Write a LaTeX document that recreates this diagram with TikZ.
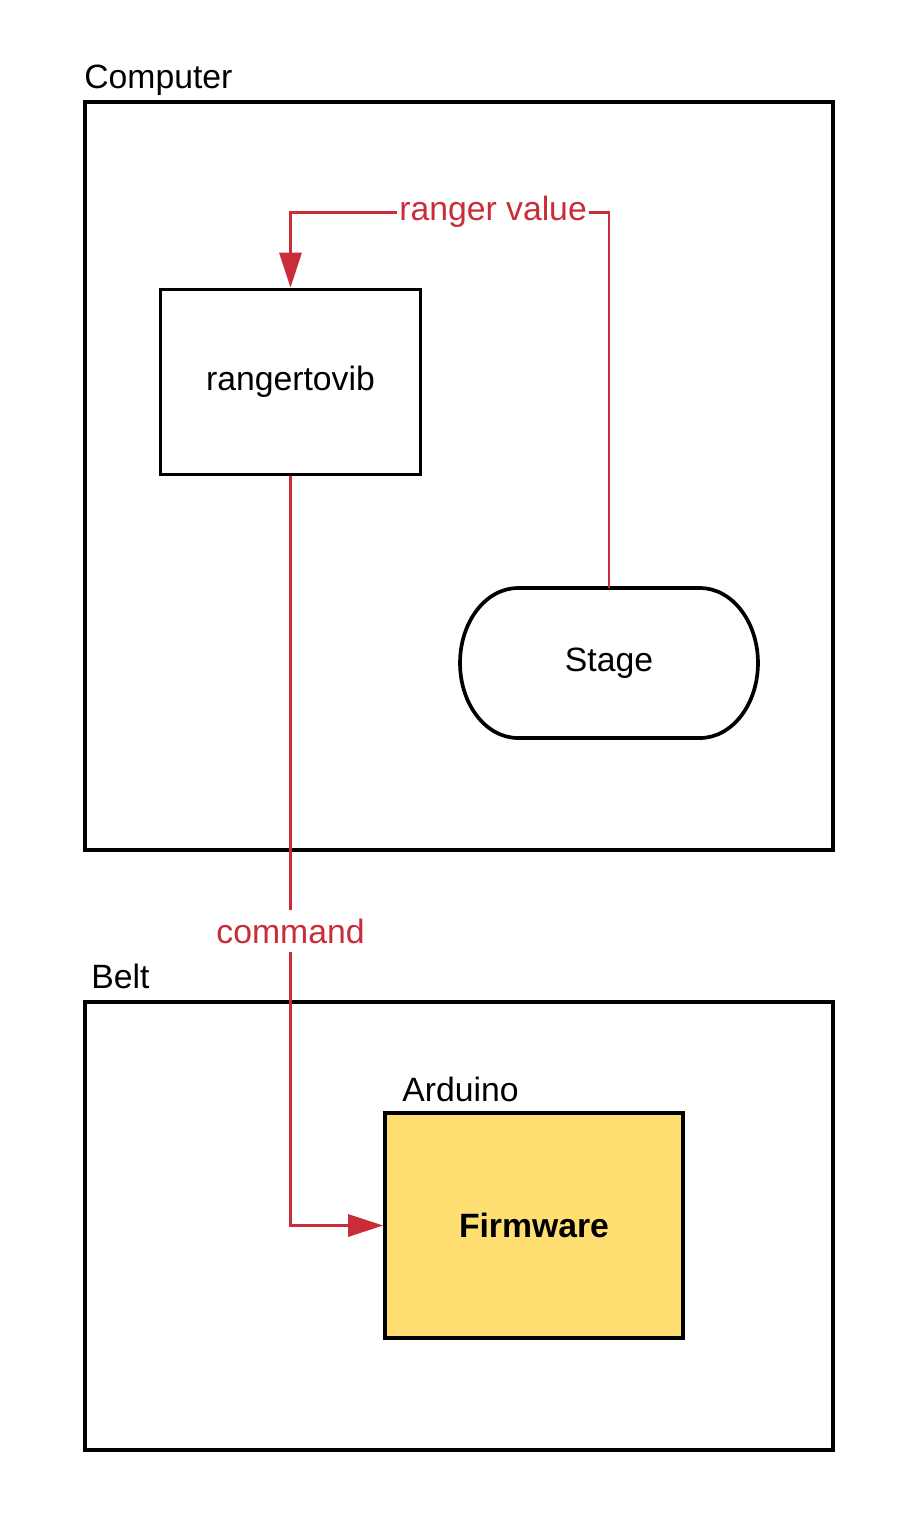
\documentclass[tikz,border=0pt]{standalone}
\usepackage{fontspec}
\setmainfont{Liberation Sans}
\usetikzlibrary{arrows.meta}
\definecolor{linkred}{HTML}{C92D39}
\definecolor{chipyellow}{HTML}{FFDF71}

\begin{document}
\begin{tikzpicture}[
    x=0.02cm, y=-0.02cm,
    every node/.style={node font=\fontsize{19.2}{23}\selectfont},
    box/.style={rectangle, draw=black, line width=2.1pt},
    tag/.style={anchor=base west, inner sep=0pt},
    flow/.style={draw=linkred, line width=1.7pt, -{Triangle[length=0.7cm, width=0.44cm]}},
    lbl/.style={fill=white, text=linkred, inner xsep=1.5pt, inner ysep=5pt}
]
  \useasboundingbox (0,0) rectangle (909,1526);

  % groups
  \node[box, minimum width=14.96cm, minimum height=14.96cm] (computer) at (459,476) {};
  \node[box, minimum width=14.96cm, minimum height=8.96cm] (belt) at (459,1226) {};
  \node[tag] (computerlbl) at (84,88) {Computer};
  \node[tag] (beltlbl) at (91,988) {Belt};

  % blocks
  \node[box, minimum width=5.2cm, minimum height=3.7cm] (ranger) at (290.5,382) {rangertovib};
  \node[box, draw=none, outer sep=0pt, minimum width=5.96cm, minimum height=3.0cm] (stage) at (609,663) {Stage};
  \draw[line width=2.1pt] ([xshift=1.16cm]stage.north west) -- ([xshift=-1.16cm]stage.north east)
    arc[start angle=90, end angle=-90, x radius=1.16cm, y radius=1.5cm]
    -- ([xshift=1.16cm]stage.south west)
    arc[start angle=270, end angle=90, x radius=1.16cm, y radius=1.5cm] -- cycle;
  \node[box, fill=chipyellow, minimum width=5.96cm, minimum height=4.5cm,
        node font=\fontsize{19.2}{23}\selectfont\bfseries] (firmware) at (534,1225.5) {Firmware};
  \node[tag] (arduinolbl) at (402,1101) {Arduino};

  % links
  \draw[flow] (stage.north) -- ++(0,-376) -| node[lbl, pos=0.182] (rangerval) {ranger value} (ranger.north);
  \draw[flow] (ranger.south) |- node[lbl, pos=0.3035] (cmd) {command} (firmware.west);
\end{tikzpicture}
\end{document}
